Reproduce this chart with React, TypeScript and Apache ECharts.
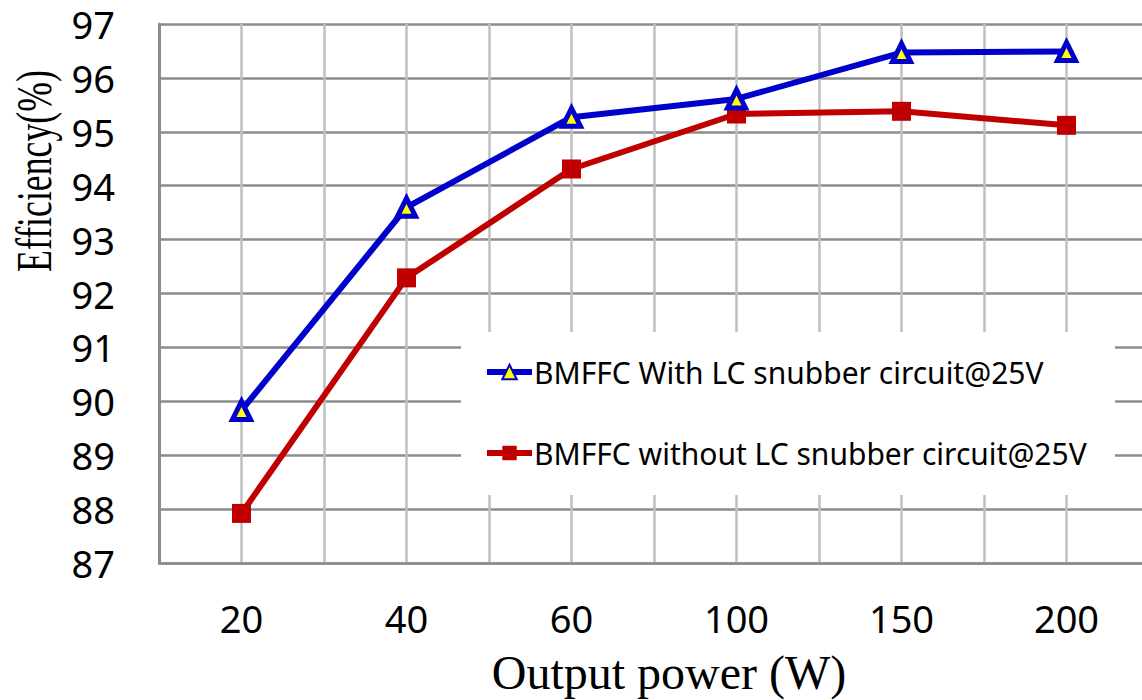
import React, { useEffect, useRef } from "react";
import * as echarts from "echarts";

const categories = ["20", "40", "60", "100", "150", "200"];
const withLC = [89.83, 93.6, 95.27, 95.61, 96.47, 96.49];
const withoutLC = [87.92, 92.29, 94.31, 95.33, 95.38, 95.12];
const seriesNames = [
  "BMFFC With LC snubber circuit@25V",
  "BMFFC without LC snubber circuit@25V",
];
const yMin = 87;
const yMax = 97;

export default function App() {
  const ref = useRef<HTMLDivElement>(null);
  useEffect(() => {
    if (!ref.current) return;
    const chart = echarts.init(ref.current, null, { renderer: "svg" });
    const sans = "'Noto Sans', 'Open Sans', sans-serif";
    const serif = "'Liberation Serif', 'DejaVu Serif', serif";
    chart.setOption({
      animation: false,
      backgroundColor: "#ffffff",
      grid: { left: 159, top: 24, width: 990, height: 539, containLabel: false },
      xAxis: [
        {
          type: "category",
          data: categories,
          boundaryGap: true,
          axisLine: { show: true, lineStyle: { color: "#8c8c8c", width: 2.5 } },
          axisTick: { show: false },
          splitLine: { show: false },
          axisLabel: {
            color: "#000",
            fontFamily: sans,
            fontSize: 38,
            margin: 36,
          },
        },
        {
          type: "value",
          min: 0,
          max: 12,
          interval: 1,
          position: "bottom",
          axisLine: { show: false },
          axisTick: { show: false },
          axisLabel: { show: false },
          splitLine: { show: true, lineStyle: { color: "#bfbfbf", width: 2.5 } },
        },
      ],
      yAxis: {
        type: "value",
        min: yMin,
        max: yMax,
        interval: 1,
        axisLine: { show: true, lineStyle: { color: "#8c8c8c", width: 3 } },
        axisTick: { show: false },
        splitLine: { show: true, lineStyle: { color: "#8c8c8c", width: 2.5 } },
        axisLabel: {
          color: "#000",
          fontFamily: sans,
          fontSize: 38,
          margin: 44,
        },
      },
      graphic: [
        {
          type: "rect",
          z: 50,
          shape: { x: 461, y: 332, width: 654, height: 163 },
          style: { fill: "#ffffff" },
        },
        {
          type: "text",
          x: 669,
          y: 672,
          z: 50,
          style: {
            text: "Output power (W)",
            font: `48px ${serif}`,
            fill: "#000",
            align: "center",
            verticalAlign: "middle",
          },
        },
        {
          type: "text",
          x: 34,
          y: 171,
          rotation: Math.PI / 2,
          scaleX: 0.715,
          z: 50,
          style: {
            text: "Efficiency(%)",
            font: `50px ${serif}`,
            fill: "#000",
            align: "center",
            verticalAlign: "middle",
          },
        },
      ],
      legend: {
        z: 60,
        orient: "vertical",
        left: 484,
        top: 355,
        itemWidth: 45,
        itemHeight: 18,
        itemGap: 47,
        padding: 0,
        lineStyle: { width: 6 },
        textStyle: {
          color: "#000",
          fontFamily: sans,
          fontSize: 30,
          lineHeight: 34,
          padding: [0, 0, 0, -3],
        },
        data: seriesNames,
      },
      series: [
        {
          name: seriesNames[0],
          type: "line",
          data: withLC,
          xAxisIndex: 0,
          symbol: "triangle",
          symbolSize: 18,
          lineStyle: { color: "#0000cc", width: 6 },
          itemStyle: { color: "#ffff00", borderColor: "#0000cc", borderWidth: 5 },
          z: 5,
        },
        {
          name: seriesNames[1],
          type: "line",
          data: withoutLC,
          xAxisIndex: 0,
          symbol: "rect",
          symbolSize: 19,
          lineStyle: { color: "#c00000", width: 6 },
          itemStyle: { color: "#c00000", borderColor: "#c00000", borderWidth: 0 },
          z: 4,
        },
      ],
    });
    return () => chart.dispose();
  }, []);
  return (
    <div
      ref={ref}
      style={{ position: "fixed", left: 0, top: 0, width: 1160, height: 700 }}
    />
  );
}
